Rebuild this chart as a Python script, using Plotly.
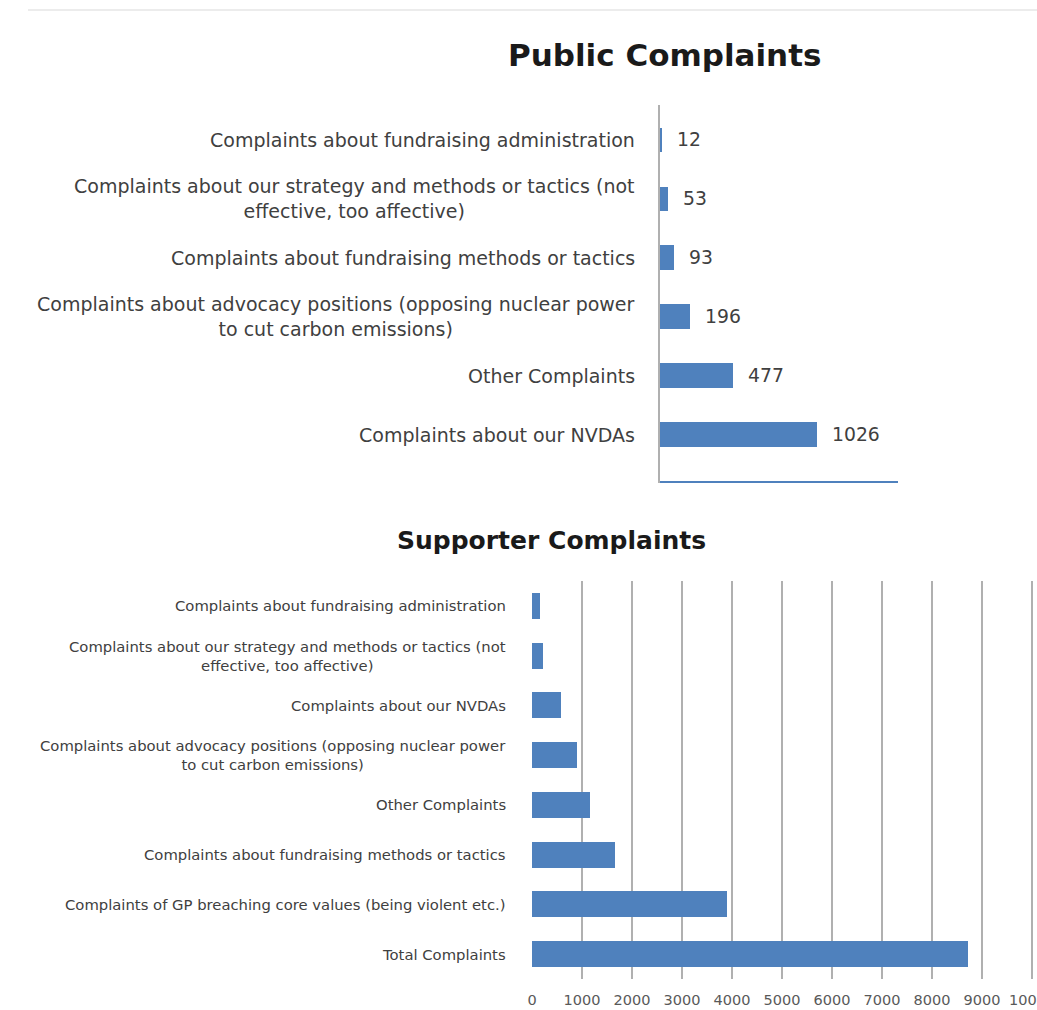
import plotly.graph_objects as go

# ---- Public complaints (listed top to bottom as drawn) ----
public_categories = [
    "Complaints about fundraising administration",
    "Complaints about our strategy and methods or tactics (not<br>effective, too affective)",
    "Complaints about fundraising methods or tactics",
    "Complaints about advocacy positions (opposing nuclear power<br>to cut carbon emissions)",
    "Other Complaints",
    "Complaints about our NVDAs",
    "Total Complaints",
]
public_values = [12, 53, 93, 196, 477, 1026, 1555]
public_labelled = 6  # the last bar runs off the bottom edge, no value label

# ---- Supporter complaints (listed top to bottom as drawn) ----
supporter_categories = [
    "Complaints about fundraising administration",
    "Complaints about our strategy and methods or tactics (not<br>effective, too affective)",
    "Complaints about our NVDAs",
    "Complaints about advocacy positions (opposing nuclear power<br>to cut carbon emissions)",
    "Other Complaints",
    "Complaints about fundraising methods or tactics",
    "Complaints of GP breaching core values (being violent etc.)",
    "Total Complaints",
]
supporter_values = [150, 220, 580, 900, 1150, 1650, 3900, 8710]
supporter_ticks = list(range(0, 10001, 1000))

W, H = 1037, 1010
BAR = "#4f81bd"
TXT = "#404040"
FONT = "DejaVu Sans"


def px_x(p):
    return p / W


def px_y(p):
    return 1 - p / H


fig = go.Figure()

fig.add_trace(go.Bar(
    x=public_values, y=public_categories, orientation="h",
    marker=dict(color=BAR, line=dict(width=0)), width=0.42,
    xaxis="x", yaxis="y", hoverinfo="x+y",
))
fig.add_trace(go.Bar(
    x=supporter_values, y=supporter_categories, orientation="h",
    marker=dict(color=BAR, line=dict(width=0)), width=0.52,
    xaxis="x2", yaxis="y2", hoverinfo="x+y",
))

annotations = []

# Category labels (centred lines, right-anchored block)
for cat in public_categories[:public_labelled]:
    annotations.append(dict(
        x=px_x(637), xref="paper", y=cat, yref="y", xanchor="right",
        yanchor="middle", align="center", text=cat, showarrow=False,
        font=dict(family=FONT, size=19, color=TXT),
    ))
for cat in supporter_categories:
    annotations.append(dict(
        x=px_x(508), xref="paper", y=cat, yref="y2", xanchor="right",
        yanchor="middle", align="center", text=cat, showarrow=False,
        font=dict(family=FONT, size=14.8, color=TXT),
    ))

# Value labels beside the public bars
for cat, v in zip(public_categories[:public_labelled], public_values[:public_labelled]):
    annotations.append(dict(
        x=v, xref="x", y=cat, yref="y", xanchor="left", yanchor="middle",
        xshift=13, text=str(v), showarrow=False,
        font=dict(family=FONT, size=18.8, color=TXT),
    ))

# Titles
annotations.append(dict(
    x=px_x(664), y=px_y(55), xref="paper", yref="paper",
    xanchor="center", yanchor="middle",
    text="<b>Public Complaints</b>", showarrow=False,
    font=dict(family=FONT, size=31, color="#1a1a1a"),
))
annotations.append(dict(
    x=px_x(551), y=px_y(540), xref="paper", yref="paper",
    xanchor="center", yanchor="middle",
    text="<b>Supporter Complaints</b>", showarrow=False,
    font=dict(family=FONT, size=25, color="#1a1a1a"),
))

fig.update_layout(
    width=W, height=H, autosize=False,
    margin=dict(l=0, r=0, t=0, b=0, autoexpand=False),
    paper_bgcolor="white", plot_bgcolor="white",
    showlegend=False,
    bargap=0,
    annotations=annotations,
    shapes=[dict(type="line", xref="paper", yref="paper",
                 x0=px_x(28), x1=1, y0=px_y(10), y1=px_y(10),
                 line=dict(color="#ececec", width=2))],
    xaxis=dict(
        domain=[px_x(660), px_x(898)], range=[0, 1555],
        showgrid=False, zeroline=False, showticklabels=False,
        showline=False, anchor="y", automargin=False,
    ),
    yaxis=dict(
        domain=[px_y(483), px_y(105)], range=[5.82, -0.593],
        type="category", categoryorder="array", categoryarray=public_categories,
        showticklabels=False, showgrid=False, zeroline=False,
        showline=True, linecolor="#b0b0b0", linewidth=2, anchor="x",
        automargin=False,
    ),
    xaxis2=dict(
        domain=[px_x(532), px_x(1034)], range=[0, 10040],
        tickvals=supporter_ticks, ticktext=[str(t) for t in supporter_ticks],
        showgrid=True, gridcolor="#b0b0b0", gridwidth=1.5,
        zeroline=False, showline=False, ticks="",
        ticklabelstandoff=10, ticklabeloverflow="allow",
        tickfont=dict(family=FONT, size=14.5, color="#595959"),
        anchor="y2", automargin=False,
    ),
    yaxis2=dict(
        domain=[px_y(979), px_y(581)], range=[7.5, -0.5],
        type="category", categoryorder="array", categoryarray=supporter_categories,
        showticklabels=False, showgrid=False, zeroline=False,
        showline=False, anchor="x2", automargin=False,
    ),
)

fig.write_html("out.html")
